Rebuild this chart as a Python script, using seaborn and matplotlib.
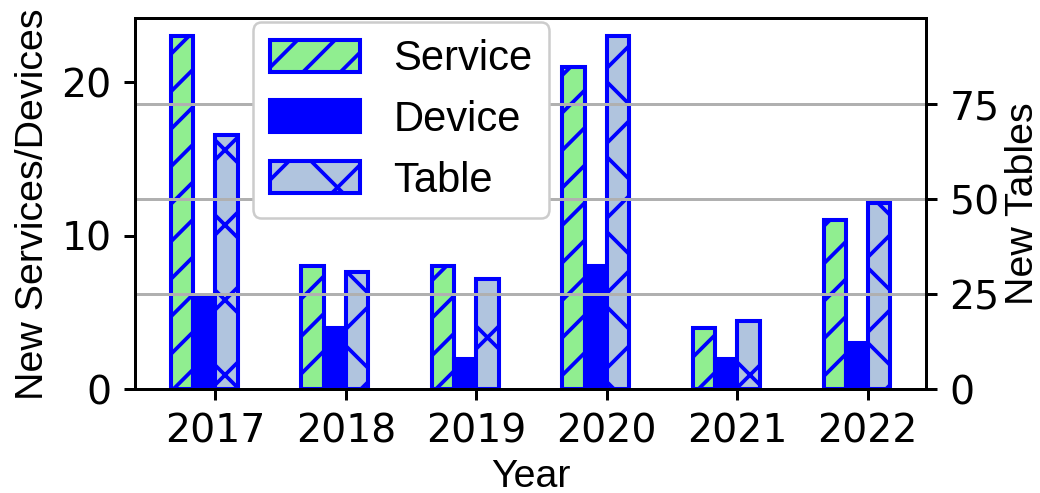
import matplotlib
matplotlib.use("Agg")
import matplotlib.pyplot as plt
import pandas as pd
import seaborn as sns
from matplotlib.patches import Patch

# yearly counts
years = ["2017", "2018", "2019", "2020", "2021", "2022"]
services = [23, 8, 8, 21, 4, 11]
devices = [6, 4, 2, 8, 2, 3]
tables = [67, 31, 29, 93, 18, 49]

series_names = ["Service", "Device", "Table"]
x_label = "Year"
left_label = "New Services/Devices"
right_label = "New Tables"

DPI = 450
LW = 0.48
sns.set_style("ticks")
plt.rcParams.update({
    "font.family": ["DejaVu Sans"],
    "text.color": "black",
    "axes.labelcolor": "black",
    "axes.linewidth": LW,
    "axes.edgecolor": "black",
    "axes.axisbelow": "line",
    "xtick.color": "black",
    "ytick.color": "black",
    "xtick.major.width": LW,
    "ytick.major.width": LW,
    "xtick.major.size": 1.75,
    "ytick.major.size": 1.75,
    "xtick.major.pad": 2.0,
    "ytick.major.pad": 2.0,
    "xtick.labelsize": 6.3,
    "ytick.labelsize": 6.3,
    "hatch.linewidth": 0.6,
})

fig, ax = plt.subplots(figsize=(1040 / DPI, 493 / DPI), dpi=DPI)
fig.subplots_adjust(left=0.1298, right=0.8904, bottom=0.210, top=0.963)
ax2 = ax.twinx()

df = pd.DataFrame({
    "Year": years * 3,
    "Series": [s for s in series_names for _ in years],
    "Count": services + devices + tables,
})

# four dodge slots per year; the last stays empty so the three bars sit left of the tick
slots = series_names + ["gap"]
fills = {"Service": "lightgreen", "Device": "blue", "Table": "lightsteelblue", "gap": "white"}
hatches = {"Service": "////", "Device": "", "Table": "xx"}
edge = "blue"
bar_lw = 0.65

for name, target in [("Service", ax), ("Device", ax), ("Table", ax2)]:
    before = len(target.patches)
    sns.barplot(data=df[df.Series == name], x="Year", y="Count", hue="Series",
                hue_order=slots, palette=fills, width=0.68, dodge=True,
                saturation=1, errorbar=None, edgecolor=edge, linewidth=bar_lw,
                legend=False, ax=target)
    for p in target.patches[before:]:
        p.set_hatch(hatches[name])

ax.set_xlim(-0.6155, 5.4455)
ax.grid(False)
ax2.grid(False)
ax2.yaxis.grid(True, color="#b0b0b0", linewidth=LW)
ax2.set_yticks([0, 25, 50, 75])
ax.set_yticks([0, 10, 20])

label_font = dict(fontfamily="Liberation Sans", fontsize=6.3, color="black")
ax.set_xlabel(x_label, labelpad=1.3, **label_font)
ax.set_ylabel(left_label, labelpad=1.7, **label_font)
ax2.set_ylabel(right_label, labelpad=0.9, **label_font)

for a in (ax, ax2):
    for s in a.spines.values():
        s.set_visible(True)
        s.set_linewidth(LW)
        s.set_color("black")

handles = [Patch(facecolor=fills[n], edgecolor=edge, hatch=hatches[n],
                 linewidth=bar_lw, label=n) for n in series_names]
leg = ax2.legend(handles=handles, loc="upper left", bbox_to_anchor=(0.149, 0.989),
                 borderaxespad=0, prop={"family": "Liberation Sans", "size": 6.7},
                 handlelength=2.15, handleheight=0.8, handletextpad=0.8,
                 labelspacing=0.5, borderpad=0.4, framealpha=1,
                 edgecolor="0.8", fancybox=True)
leg.get_frame().set_linewidth(0.4)
for t in leg.get_texts():
    t.set_color("black")

fig.savefig("out.png", dpi=DPI)
